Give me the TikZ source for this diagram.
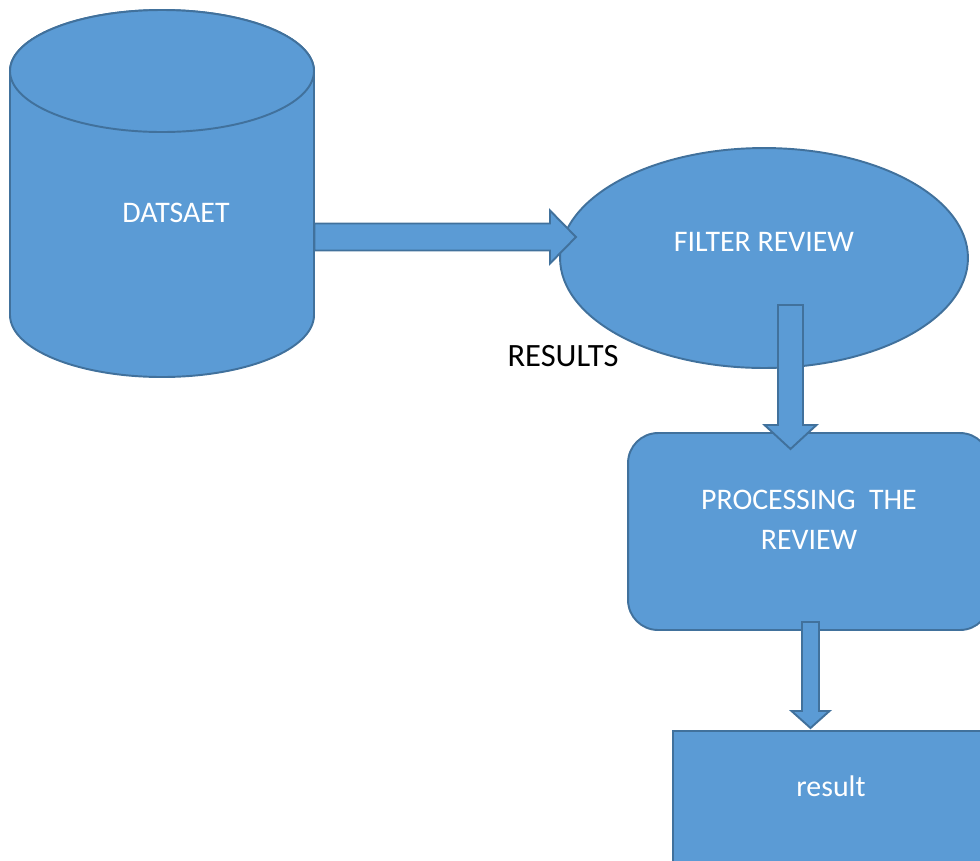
\documentclass[tikz,border=0pt]{standalone}
\usepackage{fontspec}
\setmainfont{Carlito}
\usetikzlibrary{shapes.geometric,calc}
\definecolor{boxblue}{HTML}{5B9BD5}
\definecolor{edgeblue}{HTML}{41719C}
\tikzset{
  shapebox/.style={fill=boxblue, draw=edgeblue, line width=1.1pt},
  blockline/.style={fill=boxblue, draw=edgeblue, line width=1.1pt, line join=miter},
  whitetext/.style={text=white, font=\fontsize{17}{22.8}\selectfont, align=center},
}
% block arrows: from, to, shaft half width, head half width, head length
\newcommand{\rightblock}[5]{%
  \draw[blockline] let \p1=(#1), \p2=(#2) in
    (\x1,\y2+#3) -- (\x2-#5,\y2+#3) -- (\x2-#5,\y2+#4) -- (\x2,\y2)
    -- (\x2-#5,\y2-#4) -- (\x2-#5,\y2-#3) -- (\x1,\y2-#3) -- cycle;}
\newcommand{\downblock}[5]{%
  \draw[blockline] let \p1=(#1), \p2=(#2) in
    (\x2-#3,\y1) -- (\x2-#3,\y2+#5) -- (\x2-#4,\y2+#5) -- (\x2,\y2)
    -- (\x2+#4,\y2+#5) -- (\x2+#3,\y2+#5) -- (\x2+#3,\y1) -- cycle;}
\begin{document}
\begin{tikzpicture}[x=0.02cm, y=-0.02cm]
    \useasboundingbox (0,0) rectangle (980,860);
    \clip (0,0) rectangle (980,860);
    % dataset cylinder
    \path[shapebox] (10,71) -- (10,315)
        arc[start angle=180, end angle=0, x radius=152, y radius=62]
        -- (314,71)
        arc[start angle=360, end angle=180, x radius=152, y radius=61] -- cycle;
    \draw[shapebox] (162,71) ellipse [x radius=152, y radius=61];
    \node (data) [minimum width=6.08cm, minimum height=7.34cm] at (162,194) {};
    \node[whitetext] (datatxt) at (176,213) {DATSAET};
    % steps
    \node (filter) [shapebox, ellipse, minimum width=8.16cm, minimum height=4.4cm] at (764,258) {};
    \node[whitetext] (filtertxt) at (764,242) {FILTER REVIEW};
    \node (proc) [shapebox, rounded corners=0.6cm, minimum width=7.24cm, minimum height=3.94cm] at (809,531.5) {};
    \node[whitetext] (proctxt) at (809,520) {PROCESSING\ \ THE\\REVIEW};
    \node (res) [shapebox, anchor=north west, minimum width=6.4cm, minimum height=3cm] at (672,730) {};
    \node[whitetext] (restxt) at (831,786) {result};
    \node[font=\fontsize{18.5}{22}\selectfont] (reslabel) at (563,356) {RESULTS};
    % arrows
    \coordinate (datatip) at (576,237);
    \rightblock{data.east}{datatip}{7.68pt}{15.08pt}{14.8pt}
    \coordinate (filtertail) at (790.5,305);
    \coordinate (proctip) at (790.5,449);
    \downblock{filtertail}{proctip}{7.11pt}{14.8pt}{13.66pt}
    \coordinate (proctail) at (810.5,622);
    \coordinate (restip) at (810.5,728);
    \downblock{proctail}{restip}{4.84pt}{10.8pt}{9.67pt}
\end{tikzpicture}
\end{document}
